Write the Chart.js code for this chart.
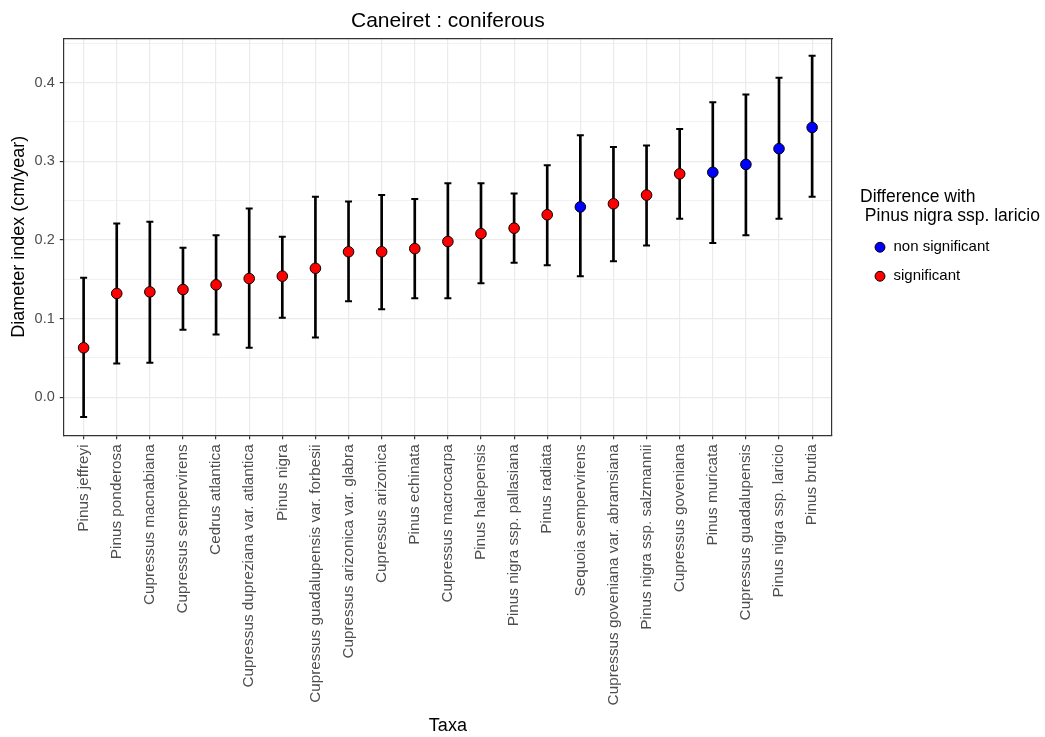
<!DOCTYPE html>
<html>
<head>
<meta charset="utf-8">
<title>Caneiret : coniferous</title>
<script src="https://cdn.jsdelivr.net/npm/chart.js@4/dist/chart.umd.min.js"></script>
<style>
    html, body { margin: 0; padding: 0; background: #ffffff; }
    #chartBox { width: 1045px; height: 737px; }
</style>
</head>
<body>
<div id="chartBox"><canvas id="chartContainer"></canvas></div>
<script>
////////////////////////////
// DONNEES DU GRAPHIQUE   //
////////////////////////////
var taxa = [
    'Pinus jeffreyi', 'Pinus ponderosa', 'Cupressus macnabiana', 'Cupressus sempervirens',
    'Cedrus atlantica', 'Cupressus dupreziana var. atlantica', 'Pinus nigra',
    'Cupressus guadalupensis var. forbesii', 'Cupressus arizonica var. glabra',
    'Cupressus arizonica', 'Pinus echinata', 'Cupressus macrocarpa', 'Pinus halepensis',
    'Pinus nigra ssp. pallasiana', 'Pinus radiata', 'Sequoia sempervirens',
    'Cupressus goveniana var. abramsiana', 'Pinus nigra ssp. salzmannii',
    'Cupressus goveniana', 'Pinus muricata', 'Cupressus guadalupensis',
    'Pinus nigra ssp. laricio', 'Pinus brutia'
];
var meanValues = [0.063, 0.132, 0.134, 0.137, 0.143, 0.151, 0.154, 0.164, 0.185, 0.185, 0.189, 0.198,
                  0.208, 0.215, 0.232, 0.242, 0.246, 0.257, 0.284, 0.286, 0.296, 0.316, 0.343];
var lowerValues = [-0.025, 0.043, 0.044, 0.086, 0.080, 0.063, 0.101, 0.076, 0.122, 0.112, 0.126, 0.126,
                   0.145, 0.171, 0.168, 0.154, 0.173, 0.193, 0.227, 0.196, 0.206, 0.227, 0.255];
var upperValues = [0.152, 0.221, 0.223, 0.190, 0.206, 0.240, 0.204, 0.255, 0.249, 0.257, 0.252, 0.272,
                   0.272, 0.259, 0.295, 0.333, 0.318, 0.320, 0.341, 0.375, 0.385, 0.406, 0.434];
var difference = ['significant', 'significant', 'significant', 'significant', 'significant', 'significant',
                  'significant', 'significant', 'significant', 'significant', 'significant', 'significant',
                  'significant', 'significant', 'significant', 'non significant', 'significant',
                  'significant', 'significant', 'non significant', 'non significant', 'non significant',
                  'non significant'];
var groups = ['non significant', 'significant'];
var groupColors = ['#0000ff', '#ff0000'];
var yTicks = [0.0, 0.1, 0.2, 0.3, 0.4];
var yMinorTicks = [0.05, 0.15, 0.25, 0.35, 0.45];

var fontFamily = '"Liberation Sans", Arial, sans-serif';

////////////////////////////////////////
// CONSTRUCTION DES JEUX DE DONNEES   //
////////////////////////////////////////
var barData = [];   // traits verticaux des barres d'erreur
var capData = [];   // petites barres horizontales aux extrémités
for (var i = 0; i < taxa.length; i++) {
    barData.push({ x: i + 1, y: [lowerValues[i], upperValues[i]] });
    capData.push({ x: i + 1, y: lowerValues[i] });
    capData.push({ x: i + 1, y: upperValues[i] });
}

var pointSets = groups.map(function(g, k) {
    var pts = [];
    for (var i = 0; i < taxa.length; i++) {
        if (difference[i] === g) pts.push({ x: i + 1, y: meanValues[i] });
    }
    return {
        type: 'scatter',
        label: g,
        data: pts,
        backgroundColor: groupColors[k],
        borderColor: '#000000',
        borderWidth: 1,
        pointRadius: 5.3,
        pointHoverRadius: 5.3,
        order: 0
    };
});

// graduations de l'axe y : majeures + mineures (grille ggplot)
var allYTicks = yTicks.concat(yMinorTicks).sort(function(a, b) { return a - b; });
function isMajor(v) {
    return yTicks.some(function(t) { return Math.abs(t - v) < 1e-9; });
}

// la légende doit être assez large pour son titre sur deux lignes
var legendWidthPlugin = {
    id: 'legendWidth',
    beforeLayout: function(chart) {
        var lg = chart.legend;
        if (lg && !lg._widthPatched) {
            var fit = lg.fit;
            lg.fit = function() {
                fit.call(this);
                this.width = Math.max(this.width, 185);
            };
            lg._widthPatched = true;
        }
    }
};

///////////////////////////
// DESSINER LE GRAPHIQUE //
///////////////////////////
var ctx = document.getElementById('chartContainer').getContext('2d');
ctx.chart = new Chart(ctx, {
    type: 'scatter',
    data: {
        datasets: [{
            type: 'bar',
            label: 'interval',
            data: barData,
            backgroundColor: '#000000',
            barThickness: 2,
            order: 2
        }, {
            type: 'scatter',
            label: 'caps',
            data: capData,
            pointStyle: 'line',
            pointRadius: 3.5,
            pointHoverRadius: 3.5,
            borderColor: '#000000',
            borderWidth: 2,
            order: 1
        }].concat(pointSets)
    },
    plugins: [legendWidthPlugin],
    options: {
        responsive: true,
        maintainAspectRatio: false,
        animation: false,
        layout: {
            padding: { left: 5, right: 0, top: 0, bottom: 0 }
        },
        scales: {
            x: {
                type: 'linear',
                position: 'bottom',
                min: 0.4,
                max: 23.6,
                offset: false,
                afterBuildTicks: function(scale) {
                    scale.ticks = taxa.map(function(t, i) { return { value: i + 1 }; });
                },
                ticks: {
                    autoSkip: false,
                    minRotation: 90,
                    maxRotation: 90,
                    padding: 5,
                    color: '#4d4d4d',
                    font: { family: fontFamily, size: 15.3 },
                    callback: function(v) { return taxa[Math.round(v) - 1]; }
                },
                grid: {
                    offset: false,
                    color: '#ebebeb',
                    lineWidth: 1.2,
                    drawTicks: true,
                    tickLength: 4,
                    tickColor: '#333333'
                },
                border: { display: true, color: '#333333', width: 1.2 },
                title: {
                    display: true,
                    text: 'Taxa',
                    color: '#000000',
                    font: { family: fontFamily, size: 18 },
                    padding: { top: 5, bottom: 0 }
                }
            },
            x2: {
                type: 'linear',
                axis: 'x',
                position: 'top',
                display: true,
                ticks: { display: false },
                grid: { display: false, drawTicks: false },
                border: { display: true, color: '#333333', width: 1.2 },
                afterFit: function(scale) { scale.height = 0; }
            },
            y: {
                type: 'linear',
                position: 'left',
                min: -0.0483,
                max: 0.4564,
                afterBuildTicks: function(scale) {
                    scale.ticks = allYTicks.map(function(v) { return { value: v }; });
                },
                ticks: {
                    padding: 5,
                    color: '#4d4d4d',
                    font: { family: fontFamily, size: 14.5 },
                    callback: function(v) { return isMajor(v) ? v.toFixed(1) : ''; }
                },
                grid: {
                    color: '#ebebeb',
                    lineWidth: function(c) { return c.tick && isMajor(c.tick.value) ? 1.2 : 0.7; },
                    drawTicks: true,
                    tickLength: 4,
                    tickColor: function(c) { return c.tick && isMajor(c.tick.value) ? '#333333' : 'rgba(0,0,0,0)'; }
                },
                border: { display: true, color: '#333333', width: 1.2 },
                title: {
                    display: true,
                    text: 'Diameter index (cm/year)',
                    color: '#000000',
                    font: { family: fontFamily, size: 18 },
                    padding: { top: 3, bottom: 0 }
                }
            },
            y2: {
                type: 'linear',
                axis: 'y',
                position: 'right',
                display: true,
                ticks: { display: false },
                grid: { display: false, drawTicks: false },
                border: { display: true, color: '#333333', width: 1.2 },
                afterFit: function(scale) { scale.width = 28; }
            }
        },
        plugins: {
            title: {
                display: true,
                text: 'Caneiret : coniferous',
                fullSize: false,
                color: '#000000',
                font: { family: fontFamily, size: 21, weight: 'normal' },
                padding: { top: 9, bottom: 4 }
            },
            legend: {
                display: true,
                position: 'right',
                align: 'center',
                fullSize: false,
                title: {
                    display: true,
                    text: ['Difference with', ' Pinus nigra ssp. laricio'],
                    position: 'start',
                    color: '#000000',
                    font: { family: fontFamily, size: 17.5, lineHeight: 1.05 },
                    padding: { top: 12.8, bottom: 18.8 }
                },
                labels: {
                    usePointStyle: true,
                    boxHeight: 7,
                    boxWidth: 12,
                    padding: 14,
                    color: '#000000',
                    font: { family: fontFamily, size: 15 },
                    filter: function(item) { return groups.indexOf(item.text) >= 0; }
                }
            },
            tooltip: { enabled: false }
        }
    }
});
</script>
</body>
</html>
